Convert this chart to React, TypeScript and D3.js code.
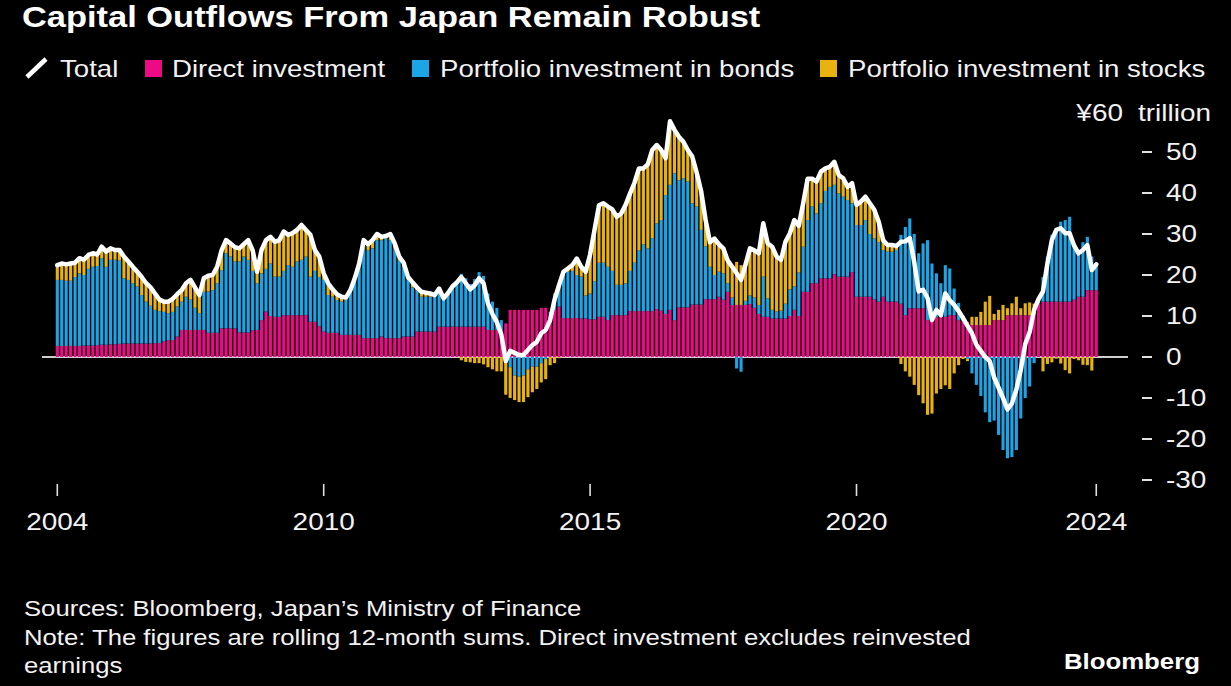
import React from "react";
import * as d3 from "d3";

// Rolling 12-month sums, ¥ trillion, monthly bars from the first period to mid-2024
const direct = [
  2.7, 2.7, 2.7, 2.7, 2.7, 2.7, 2.8, 2.8, 2.8, 2.9,
  3.0, 3.0, 3.1, 3.1, 3.2, 3.3, 3.3, 3.3, 3.3, 3.3,
  3.3, 3.3, 3.4, 3.4, 3.8, 4.1, 4.1, 5.0, 6.6, 6.6,
  6.6, 6.6, 6.6, 6.6, 5.9, 5.9, 5.9, 7.0, 7.0, 7.0,
  7.0, 6.0, 6.0, 6.0, 6.5, 6.6, 9.0, 11.1, 10.0, 9.8,
  9.8, 10.2, 10.2, 10.2, 10.2, 10.2, 10.2, 8.6, 8.6, 7.5,
  6.2, 5.9, 5.9, 5.9, 5.4, 5.4, 5.4, 5.4, 5.4, 4.6,
  4.6, 4.6, 4.6, 5.0, 4.6, 4.6, 4.6, 4.6, 5.0, 5.0,
  5.0, 6.2, 6.2, 6.2, 6.2, 6.2, 7.4, 7.4, 7.4, 7.4,
  7.4, 7.4, 7.4, 7.4, 7.4, 7.4, 7.4, 6.6, 6.6, 6.6,
  6.6, 8.2, 11.5, 11.5, 11.5, 11.5, 11.5, 11.5, 11.5, 12.0,
  12.0, 10.5, 11.5, 12.3, 9.5, 9.5, 9.5, 9.5, 9.4, 9.4,
  9.2, 9.2, 9.8, 9.8, 9.0, 10.2, 10.2, 10.2, 10.2, 11.2,
  11.2, 11.2, 11.2, 11.2, 11.2, 11.7, 11.3, 10.5, 11.5, 9.0,
  12.1, 12.1, 12.1, 12.8, 12.8, 12.8, 14.1, 14.1, 14.1, 14.7,
  14.0, 15.9, 12.7, 12.7, 12.7, 12.7, 12.9, 12.0, 10.5, 9.8,
  9.8, 9.4, 9.4, 9.4, 9.4, 10.0, 11.5, 10.0, 15.9, 15.9,
  18.0, 18.0, 19.2, 19.2, 19.2, 20.2, 19.6, 19.6, 19.6, 20.7,
  14.7, 14.7, 14.7, 14.7, 14.0, 13.5, 14.7, 13.5, 13.5, 13.5,
  13.0, 10.2, 11.9, 11.9, 11.9, 11.9, 9.0, 9.8, 9.8, 9.8,
  9.8, 10.2, 10.2, 9.0, 8.8, 8.6, 7.8, 7.8, 7.8, 7.8,
  7.8, 9.0, 9.0, 9.0, 10.2, 10.2, 10.2, 10.2, 10.2, 10.2,
  10.5, 13.1, 13.5, 13.5, 13.5, 13.5, 13.5, 13.5, 13.5, 14.0,
  14.7, 14.7, 16.3, 16.3, 16.3,
];

const bonds = [
  16.1, 16.1, 15.9, 15.9, 16.8, 17.7, 17.2, 18.7, 19.2, 19.3,
  21.1, 19.0, 20.6, 20.6, 20.3, 15.9, 15.5, 14.7, 13.9, 11.8,
  10.2, 9.2, 8.1, 7.8, 7.2, 6.6, 6.9, 7.3, 6.9, 8.1,
  7.4, 5.4, 4.1, 9.3, 10.1, 10.4, 12.1, 14.2, 18.3, 17.5,
  16.3, 17.3, 18.5, 17.7, 14.5, 11.4, 11.4, 10.4, 12.8, 9.8,
  9.8, 10.8, 12.2, 11.8, 13.1, 13.5, 14.3, 11.0, 12.4, 12.0,
  12.6, 9.2, 8.8, 8.0, 8.1, 8.6, 10.6, 13.6, 17.1, 23.4,
  21.4, 21.9, 23.9, 23.5, 24.4, 23.9, 21.9, 18.9, 17.0, 13.8,
  12.0, 10.1, 8.5, 8.5, 8.5, 8.5, 8.5, 6.9, 8.0, 9.6,
  10.6, 12.9, 11.8, 10.4, 11.6, 13.3, 12.4, 8.9, 6.9, 5.4,
  2.4, -1.0, -2.5, -4.5, -4.8, -4.5, -3.0, -2.4, -2.4, -1.5,
  -0.5, 0.5, 4.0, 5.5, 10.9, 11.3, 11.5, 10.5, 10.2, 5.6,
  6.3, 9.3, 13.2, 13.2, 13.0, 10.8, 7.4, 7.4, 7.8, 9.8,
  11.8, 14.8, 16.3, 15.3, 17.8, 20.9, 22.1, 29.0, 30.5, 35.8,
  31.0, 31.5, 30.7, 24.7, 23.9, 18.2, 12.9, 7.9, 5.9, 6.1,
  6.4, 2.1, 1.8, -2.8, -3.6, 1.0, 2.1, 2.5, 2.2, 9.8,
  4.5, 2.1, 1.7, 1.9, 3.6, 6.5, 5.7, 10.6, 11.0, 17.5,
  18.7, 17.0, 18.3, 21.3, 22.3, 21.8, 20.3, 19.5, 18.7, 16.8,
  17.5, 17.5, 18.7, 15.3, 14.9, 14.5, 11.4, 12.2, 12.2, 12.6,
  16.8, 21.5, 21.9, 18.1, 13.4, 15.8, 19.5, 13.0, 10.6, 8.2,
  12.6, 11.4, 6.5, 4.2, 1.2, -0.5, -4.0, -6.8, -9.5, -13.5,
  -15.9, -15.5, -19.0, -22.7, -24.7, -24.4, -22.7, -15.0, -10.0, -7.2,
  -1.5, 1.0, 6.0, 11.0, 16.3, 17.9, 19.5, 19.9, 20.7, 13.7,
  11.4, 13.3, 13.0, 8.2, 6.3,
];

const stocks = [
  3.6, 4.0, 4.0, 4.2, 3.5, 3.7, 3.7, 3.4, 3.3, 2.8,
  2.8, 3.7, 2.8, 2.4, 2.6, 5.3, 4.5, 4.0, 3.6, 4.4,
  4.5, 4.5, 4.0, 2.8, 2.5, 2.8, 3.2, 3.0, 2.8, 3.3,
  4.8, 5.0, 4.4, 3.3, 3.8, 3.7, 4.0, 4.8, 3.2, 3.2,
  3.5, 3.2, 3.0, 4.8, 5.0, 2.8, 5.7, 7.0, 6.5, 8.5,
  8.9, 9.6, 7.4, 8.2, 7.7, 8.5, 6.5, 10.2, 5.1, 5.0,
  1.6, 2.9, 1.8, 1.4, 1.2, 0.5, 0.3, 0.2, 0.3, 0.5,
  1.5, 2.0, 1.5, 0.8, 0.5, 1.5, 1.2, 1.0, 1.0, 0.7,
  1.2, 0.7, 1.2, 1.0, 0.8, 0.4, 0.8, 0.0, 0.2, 0.2,
  0.2, -0.8, -1.2, -1.3, -1.5, -1.5, -1.8, -2.5, -3.0, -3.5,
  -3.5, -8.2, -7.5, -6.0, -6.2, -6.5, -6.8, -6.2, -5.4, -4.7,
  -4.9, -2.0, -1.5, -0.3, 0.4, 0.8, 1.4, 4.0, 2.4, 5.8,
  9.5, 12.5, 14.0, 14.5, 14.7, 15.0, 16.6, 17.4, 19.1, 18.9,
  19.5, 20.0, 18.5, 20.5, 21.5, 19.1, 17.1, 9.0, 15.5, 10.6,
  10.6, 8.9, 7.7, 11.4, 8.3, 9.5, 6.5, 6.0, 8.9, 6.7,
  6.1, 5.5, 7.5, 10.5, 9.7, 8.8, 11.5, 11.5, 12.6, 13.0,
  13.4, 15.4, 13.4, 12.4, 15.1, 13.7, 16.2, 11.4, 10.6, 10.1,
  6.8, 7.8, 7.7, 5.5, 4.9, 5.6, 4.5, 4.5, 3.2, 4.9,
  4.9, 5.7, 5.7, 7.5, 7.0, 5.0, 2.4, 1.6, 1.6, 1.0,
  -1.7, -3.5, -4.8, -6.8, -9.3, -11.3, -14.1, -13.8, -8.9, -7.8,
  -6.9, -7.8, -4.0, -2.0, -0.5, -0.5, 2.0, 2.0, 3.2, 5.7,
  7.1, 1.5, 2.5, 3.7, 1.7, 2.9, 4.5, 1.7, 2.9, 3.1,
  2.5, 0.0, -3.5, -1.7, -1.3, -0.4, -1.6, -3.2, -4.0, -0.5,
  -0.8, -1.9, -2.0, -3.3, 0.0,
];

const seriesKeys = ["direct", "bonds", "stocks"];
const seriesLabels = ["Direct investment", "Portfolio investment in bonds", "Portfolio investment in stocks"];
const seriesColors = ["#ee0a87", "#1ba4e6", "#e8b30f"];

const xTickLabels = ["2004", "2010", "2015", "2020", "2024"];
const xTickIndex = [0, 60, 120, 180, 234];
const yTicks = [50, 40, 30, 20, 10, 0, -10, -20, -30];

const FONT = "'Liberation Sans', Arial, Helvetica, sans-serif";
const SX = 1.2;

function T({ x, y, size, weight = 400, anchor = "start", fill = "#f2f2f2", children }: any) {
  return (
    <text
      transform={`translate(${x},${y}) scale(${SX},1)`}
      fontFamily={FONT}
      fontSize={size}
      fontWeight={weight}
      textAnchor={anchor}
      fill={fill}
    >
      {children}
    </text>
  );
}

export default function App() {
  const W = 1231;
  const H = 686;
  const n = direct.length;
  const data = d3.range(n).map((i) => ({ i, direct: direct[i], bonds: bonds[i], stocks: stocks[i] }));
  const totals = data.map((d) => d.direct + d.bonds + d.stocks);

  const step = 4.44;
  const x = d3.scaleLinear().domain([0, n - 1]).range([57.3, 57.3 + (n - 1) * step]);
  const y = d3.scaleLinear().domain([-30, 60]).range([480, 111]);
  const barW = 3.1;

  const stacked = d3
    .stack<any>()
    .keys(seriesKeys)
    .offset(d3.stackOffsetDiverging)(data);

  const line = d3
    .line<number>()
    .x((_, i) => x(i))
    .y((v) => y(v))
    .curve(d3.curveLinear);

  const legendY = 77;
  const legendItems = [
    { sq: 145, tx: 172 },
    { sq: 412, tx: 440 },
    { sq: 820, tx: 848 },
  ];

  return (
    <svg
      width={W}
      height={H}
      style={{ position: "absolute", left: 0, top: 0, background: "#000", display: "block" }}
    >
      <rect x={0} y={0} width={W} height={H} fill="#000" />

      {/* Title */}
      <T x={22} y={27} size={28.7} weight={700} fill="#ffffff">
        Capital Outflows From Japan Remain Robust
      </T>

      {/* Legend */}
      <line x1={27} y1={77} x2={46} y2={59} stroke="#fff" strokeWidth={4.5} strokeLinecap="butt" />
      <T x={60} y={legendY} size={23}>Total</T>
      {legendItems.map((it, k) => (
        <g key={k}>
          <rect x={it.sq} y={60} width={17} height={17} fill={seriesColors[k]} />
          <T x={it.tx} y={legendY} size={23}>{seriesLabels[k]}</T>
        </g>
      ))}

      {/* Zero line */}
      <line x1={42} x2={1128} y1={y(0)} y2={y(0)} stroke="#cfcfcf" strokeWidth={2} />

      {/* Bars */}
      {stacked.map((s, k) => (
        <g key={s.key} fill={seriesColors[k]}>
          {s.map((d: any, i: number) => {
            const y0 = y(d[0]);
            const y1 = y(d[1]);
            const h = Math.abs(y0 - y1);
            if (h < 0.01) return null;
            return <rect key={i} x={x(i) - barW / 2} width={barW} y={Math.min(y0, y1)} height={h} />;
          })}
        </g>
      ))}

      {/* Total line */}
      <path
        d={line(totals) || ""}
        fill="none"
        stroke="#fff"
        strokeWidth={4.5}
        strokeLinejoin="round"
        strokeLinecap="round"
      />

      {/* Y axis (right) */}
      {yTicks.map((v) => (
        <g key={v}>
          <line x1={1142} x2={1152} y1={y(v)} y2={y(v)} stroke="#e0e0e0" strokeWidth={2} />
          <T x={1166} y={y(v) + 8.3} size={23.3}>{String(v)}</T>
        </g>
      ))}
      <T x={1123} y={y(60) + 10} size={23.3} anchor="end">¥60</T>
      <T x={1138} y={y(60) + 10} size={23.3}>trillion</T>

      {/* X axis */}
      {xTickIndex.map((ti, k) => (
        <g key={k}>
          <line x1={x(ti)} x2={x(ti)} y1={484} y2={496} stroke="#e0e0e0" strokeWidth={1.6} />
          <T x={x(ti)} y={530} size={23.3} anchor="middle">{xTickLabels[k]}</T>
        </g>
      ))}

      {/* Footer */}
      <T x={24} y={616} size={21.4}>Sources: Bloomberg, Japan’s Ministry of Finance</T>
      <T x={24} y={645} size={21.4}>
        Note: The figures are rolling 12-month sums. Direct investment excludes reinvested
      </T>
      <T x={24} y={673} size={21.4}>earnings</T>
      <T x={1200} y={669} size={21.5} weight={700} anchor="end" fill="#ffffff">Bloomberg</T>
    </svg>
  );
}
